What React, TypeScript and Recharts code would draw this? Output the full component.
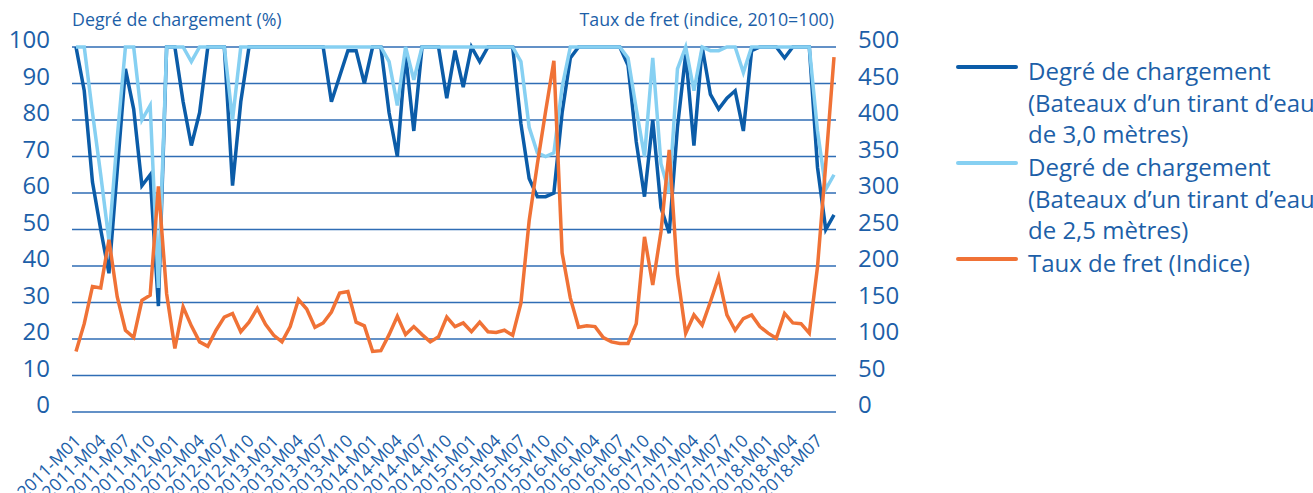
import React from "react";
import { LineChart, Line, XAxis, YAxis, CartesianGrid } from "recharts";

// monthly series 2011-M01 .. 2018-M09
const YEARS = [2011, 2012, 2013, 2014, 2015, 2016, 2017, 2018];
const months = YEARS.flatMap((y) =>
  Array.from({ length: 12 }, (_, m) => `${y}-M${String(m + 1).padStart(2, "0")}`)
).slice(0, 93);

// Degré de chargement, bateaux 3,0 m (%)
const tirant30 = [
  100, 88, 63, 50, 38, 66, 94, 83, 62, 65,
  29, 100, 100, 85, 73, 82, 100, 100, 100, 62,
  85, 100, 100, 100, 100, 100, 100, 100, 100, 100,
  100, 85, 92, 99, 99, 90, 100, 100, 82, 70,
  98, 77, 100, 100, 100, 86, 99, 89, 100, 96,
  100, 100, 100, 100, 79, 64, 59, 59, 60, 82,
  97, 100, 100, 100, 100, 100, 100, 95, 74, 59,
  80, 56, 49, 78, 98, 73, 100, 87, 83, 86,
  88, 77, 99, 100, 100, 100, 97, 100, 100, 100,
  67, 50, 54,
];

// Degré de chargement, bateaux 2,5 m (%)
const tirant25 = [
  100, 100, 82, 65, 47, 75, 100, 100, 80, 84,
  34, 100, 100, 100, 96, 100, 100, 100, 100, 80,
  100, 100, 100, 100, 100, 100, 100, 100, 100, 100,
  100, 100, 100, 100, 100, 100, 100, 100, 96, 84,
  100, 91, 100, 100, 100, 100, 100, 100, 100, 100,
  100, 100, 100, 100, 96, 78, 71, 70, 71, 89,
  100, 100, 100, 100, 100, 100, 100, 97, 83, 70,
  97, 68, 60, 94, 100, 88, 100, 99, 99, 100,
  100, 93, 100, 100, 100, 100, 100, 100, 100, 100,
  77, 61, 65,
];

// Taux de fret (indice, 2010=100)
const tauxFret = [
  83, 121, 172, 170, 236, 158, 112, 102, 153, 160,
  309, 162, 87, 144, 118, 96, 90, 112, 130, 135,
  110, 123, 142, 120, 105, 96, 117, 154, 141, 116,
  122, 137, 163, 165, 123, 118, 83, 84, 106, 131,
  106, 117, 106, 96, 103, 130, 117, 122, 110, 123,
  110, 109, 112, 105, 149, 262, 340, 412, 481, 218,
  156, 116, 118, 117, 102, 96, 94, 94, 121, 240,
  174, 247, 359, 189, 108, 133, 119, 151, 185, 133,
  112, 128, 133, 117, 108, 101, 135, 122, 121, 108,
  199, 340, 486,
];

const leftTicks = [0, 10, 20, 30, 40, 50, 60, 70, 80, 90, 100];
const rightTicks = [0, 50, 100, 150, 200, 250, 300, 350, 400, 450, 500];

const legendItems = [
  { color: "#0B5CA8", lines: ["Degré de chargement", "(Bateaux d’un tirant d’eau", "de 3,0 mètres)"] },
  { color: "#86D0F2", lines: ["Degré de chargement", "(Bateaux d’un tirant d’eau", "de 2,5 mètres)"] },
  { color: "#F07236", lines: ["Taux de fret (Indice)"] },
];

const TXT = "#1D5FA8";
const FONT = "'Open Sans', 'Noto Sans', sans-serif";

const data = months.map((month, i) => ({
  month,
  t30: tirant30[i],
  t25: tirant25[i],
  fret: tauxFret[i],
}));

const LeftTick = ({ x, y, payload }: any) => (
  <text x={x} y={y - 7} dy="0.35em" textAnchor="end" fontSize={24} fill={TXT} fontFamily={FONT}>
    {payload.value}
  </text>
);

const RightTick = ({ x, y, payload }: any) => (
  <text x={x} y={y - 7} dy="0.35em" textAnchor="start" fontSize={24} fill={TXT} fontFamily={FONT}>
    {payload.value}
  </text>
);

const MonthTick = ({ x, y, payload }: any) => (
  <g transform={`translate(${x + 6},${y + 22})`}>
    <text textAnchor="end" transform="rotate(-45)" fontSize={17.5} fill={TXT} fontFamily={FONT}>
      {payload.value}
    </text>
  </g>
);

export default function App() {
  return (
    <div style={{ position: "absolute", left: 0, top: 0, width: 1313, height: 493, background: "#fff", overflow: "hidden" }}>
      <LineChart
        width={1313}
        height={493}
        data={data}
        margin={{ top: 47, right: 397, bottom: 0, left: 0 }}
      >
        <CartesianGrid vertical={false} stroke="#2F6DB5" strokeWidth={1.3} yAxisId="left" />
        <XAxis
          dataKey="month"
          interval={2}
          axisLine={false}
          tickLine={false}
          height={81}
          padding={{ left: 4, right: 2 }}
          tick={<MonthTick />}
        />
        <YAxis
          yAxisId="left"
          domain={[0, 100]}
          ticks={leftTicks}
          width={72}
          axisLine={false}
          tickLine={false}
          tickMargin={16}
          tick={<LeftTick />}
        />
        <YAxis
          yAxisId="right"
          orientation="right"
          domain={[0, 500]}
          ticks={rightTicks}
          width={80}
          axisLine={false}
          tickLine={false}
          tickMargin={16}
          tick={<RightTick />}
        />
        <Line yAxisId="left" type="linear" dataKey="t30" stroke="#0B5CA8" strokeWidth={3.5} dot={false} isAnimationActive={false} />
        <Line yAxisId="left" type="linear" dataKey="t25" stroke="#86D0F2" strokeWidth={3.5} dot={false} isAnimationActive={false} />
        <Line yAxisId="right" type="linear" dataKey="fret" stroke="#F07236" strokeWidth={3.5} dot={false} isAnimationActive={false} />
      </LineChart>
      <svg width={1313} height={493} style={{ position: "absolute", left: 0, top: 0, pointerEvents: "none" }}>
        <text x={72} y={26} fontSize={17.8} fill={TXT} fontFamily={FONT}>Degré de chargement (%)</text>
        <text x={834} y={26} fontSize={17.8} fill={TXT} fontFamily={FONT} textAnchor="end">Taux de fret (indice, 2010=100)</text>
        {legendItems.map((item, k) => {
          const base = 80 + k * 96;
          return (
            <g key={k}>
              <line x1={958} x2={1016} y1={base - 13} y2={base - 13} stroke={item.color} strokeWidth={4} strokeLinecap="round" />
              {item.lines.map((ln, j) => (
                <text key={j} x={1028} y={base + j * 31.5} fontSize={24} fill={TXT} fontFamily={FONT}>{ln}</text>
              ))}
            </g>
          );
        })}
      </svg>
    </div>
  );
}
